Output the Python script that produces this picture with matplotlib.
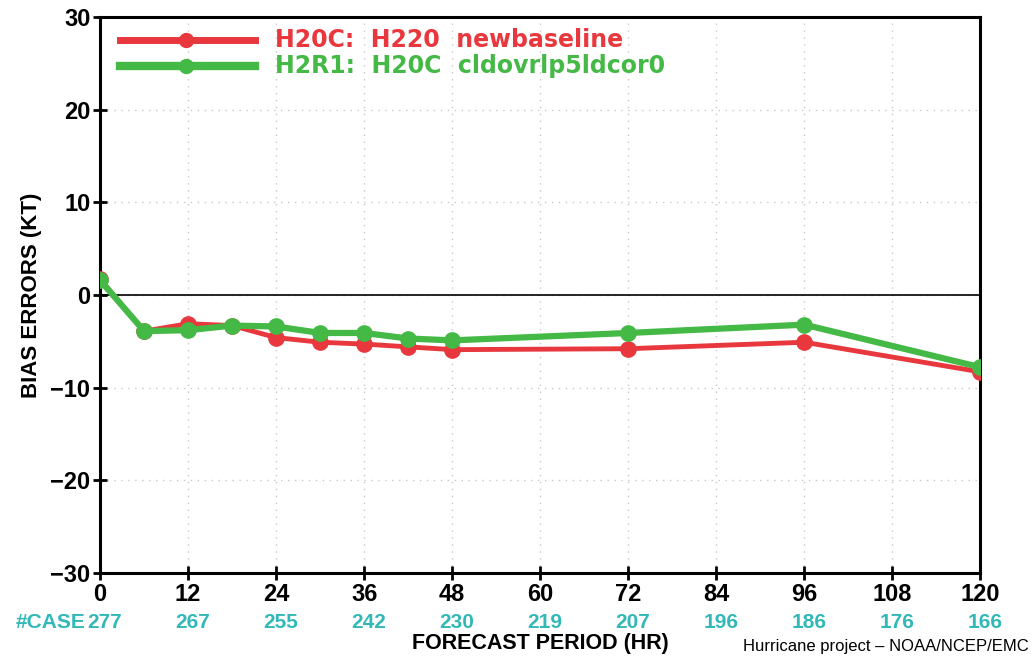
import numpy as np
from matplotlib import pyplot as plt

plt.rcParams['font.family'] = ['Liberation Sans', 'DejaVu Sans']

# Forecast lead times (hr) and bias errors (kt)
hours = [0, 6, 12, 18, 24, 30, 36, 42, 48, 72, 96, 120]
bias_h20c = [1.7, -3.9, -3.1, -3.3, -4.6, -5.1, -5.3, -5.6, -5.9, -5.8, -5.1, -8.3]
bias_h2r1 = [1.6, -3.9, -3.8, -3.3, -3.4, -4.1, -4.1, -4.7, -4.9, -4.1, -3.2, -7.8]

label_h20c = "H20C:  H220  newbaseline"
label_h2r1 = "H2R1:  H20C  cldovrlp5ldcor0"

# Number of verifying cases per tick
case_hours = [0, 12, 24, 36, 48, 60, 72, 84, 96, 108, 120]
case_counts = [277, 267, 255, 242, 230, 219, 207, 196, 186, 176, 166]

red = "#e8383d"
green = "#44b946"
teal = "#33b8b8"

fig = plt.figure(figsize=(10.32, 6.57), dpi=100)
ax = fig.add_axes([0.097, 0.128, 0.853, 0.846])

ax.plot(hours, bias_h20c, "-o", color=red, lw=3.5, ms=11, zorder=3)
ax.plot(hours, bias_h2r1, "-o", color=green, lw=4.5, ms=11, zorder=4)
ax.axhline(0, color="black", lw=1.2, zorder=2)

ax.set_xlim(0, 120)
ax.set_ylim(-30, 30)
ax.set_xticks(case_hours)
ax.set_yticks(np.arange(-30, 31, 10))
ax.set_yticklabels([str(v).replace("-", "\u2212") for v in range(-30, 31, 10)])
ax.grid(True, color="#c8c8c8", ls=(0, (1, 4)), lw=1)
for s in ax.spines.values():
    s.set_linewidth(2.2)
ax.tick_params(direction="inout", length=10, width=2, labelsize=17, pad=2)
for t in ax.get_xticklabels() + ax.get_yticklabels():
    t.set_fontweight("bold")

# legend drawn as sample lines with the series text in matching colour
ax.plot([2.7, 21.1], [27.5, 27.5], "-", color=red, lw=5, zorder=5)
ax.plot([11.7], [27.5], "o", color=red, ms=10, zorder=6)
ax.plot([2.7, 21.1], [24.7, 24.7], "-", color=green, lw=6, zorder=5)
ax.plot([11.7], [24.7], "o", color=green, ms=10, zorder=6)
ax.text(23.8, 27.5, label_h20c, color=red, fontsize=17, fontweight="bold", va="center",
        family="DejaVu Sans")
ax.text(23.8, 24.7, label_h2r1, color=green, fontsize=17, fontweight="bold", va="center",
        family="DejaVu Sans")

ax.set_ylabel("BIAS ERRORS (KT)", fontsize=16, fontweight="bold", labelpad=6)

# case counts below the hour ticks
for h, n in zip(case_hours, case_counts):
    ax.text(h + 0.6, -35.3, str(n), color=teal, fontsize=15, fontweight="bold",
            ha="center", va="center")
ax.text(-2.0, -35.3, "#CASE", color=teal, fontsize=15, fontweight="bold",
        ha="right", va="center")

ax.text(60, -37.6, "FORECAST PERIOD (HR)", fontsize=15.5, fontweight="bold",
        ha="center", va="center")
fig.text(0.997, 0.004, "Hurricane project \u2013 NOAA/NCEP/EMC", fontsize=12,
         ha="right", va="bottom")

fig.savefig("out.png", dpi=100)
